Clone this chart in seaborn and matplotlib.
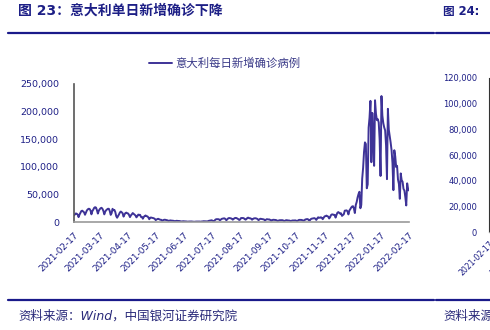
import pandas as pd
import matplotlib
matplotlib.use("Agg")
import matplotlib.pyplot as plt
from matplotlib.ticker import FuncFormatter
import seaborn as sns

# Italy, daily new confirmed cases; one row per week (Wed .. Tue)
weekly_cases = [
    [12074, 13762, 15479, 14931, 13452, 8824, 13314],
    [16424, 19886, 20499, 18916, 17455, 13114, 17083],
    [20884, 22865, 24036, 23641, 20765, 13902, 19749],
    [22409, 25673, 26824, 26062, 21315, 15267, 20396],
    [23059, 24935, 25735, 23832, 20159, 13846, 18765],
    [21267, 22790, 23987, 23839, 19611, 12916, 16017],
    [23904, 21261, 21932, 18025, 10680, 7767, 10680],
    [13708, 17221, 18938, 17567, 15746, 9789, 13447],
    [16168, 16974, 15943, 15370, 12694, 8864, 12074],
    [13844, 16232, 14761, 13176, 11807, 8444, 10404],
    [13385, 12965, 12965, 9148, 9148, 5948, 9116],
    [10867, 11807, 10554, 10176, 8292, 5080, 7852],
    [8085, 7567, 7264, 6659, 5753, 3455, 4452],
    [5506, 5741, 4717, 4147, 3995, 2490, 3224],
    [3937, 4147, 3738, 3351, 2949, 1820, 2483],
    [2897, 2557, 2436, 2275, 1896, 1273, 1896],
    [2199, 1901, 1901, 1723, 1390, 907, 1255],
    [1400, 1197, 1197, 1000, 880, 495, 835],
    [927, 1055, 952, 794, 720, 389, 679],
    [776, 865, 808, 794, 808, 480, 907],
    [1010, 1394, 1390, 1400, 1203, 888, 1552],
    [2153, 2455, 2898, 3121, 2329, 1391, 2072],
    [4259, 5057, 5143, 5140, 4743, 3117, 4522],
    [5696, 6171, 6513, 6599, 5321, 3190, 4845],
    [6596, 7230, 6837, 6619, 5735, 4197, 5636],
    [6968, 7409, 7162, 6188, 5210, 3676, 4456],
    [7162, 7260, 7224, 6860, 5175, 4257, 5559],
    [7548, 7826, 6735, 6761, 5959, 4166, 5498],
    [6503, 6761, 6735, 6157, 5315, 3361, 4720],
    [5923, 5621, 5193, 4955, 4664, 2800, 4021],
    [5117, 4830, 4578, 4578, 3460, 2407, 3377],
    [4042, 3826, 3797, 3578, 2795, 1771, 2694],
    [3212, 3312, 3405, 3312, 2766, 1612, 2466],
    [3235, 3235, 2771, 2748, 2494, 1597, 2278],
    [2771, 2668, 2732, 2983, 2456, 1597, 2535],
    [3702, 3882, 3794, 3725, 3035, 2535, 2980],
    [4598, 4866, 5353, 4866, 3035, 3054, 5193],
    [6032, 6411, 6764, 7014, 5823, 3757, 6424],
    [8516, 7891, 7698, 8568, 7569, 5144, 7698],
    [10172, 10638, 11555, 10544, 9709, 6404, 8544],
    [12448, 13764, 13686, 12877, 12932, 7975, 12764],
    [16806, 17959, 16632, 15021, 15756, 11093, 12712],
    [14122, 20497, 20677, 21042, 19215, 13720, 20677],
    [23195, 26109, 28064, 28632, 24259, 16213, 30798],
    [36293, 44595, 50599, 54762, 24883, 30810, 78313],
    [98020, 126888, 144243, 141262, 61046, 68052, 170844],
    [189109, 219441, 108304, 197552, 155659, 101762, 220532],
    [196224, 184615, 186253, 180426, 149512, 83403, 228179],
    [192320, 179106, 171263, 166000, 138860, 77696, 205000],
    [167206, 155697, 143898, 130000, 106858, 57715, 130000],
    [118994, 99522, 101864, 77029, 69000, 42000, 88000],
    [75861, 73000, 60000, 57000, 45000, 30000, 70000],
    [60000, 57000],
]
start_date = "2021-02-17"
series_name = "意大利每日新增确诊病例"
tick_dates = ["2021-02-17", "2021-03-17", "2021-04-17", "2021-05-17",
              "2021-06-17", "2021-07-17", "2021-08-17", "2021-09-17",
              "2021-10-17", "2021-11-17", "2021-12-17", "2022-01-17",
              "2022-02-17"]
y_ticks = [0, 50000, 100000, 150000, 200000, 250000]
next_y_ticks = [0, 20000, 40000, 60000, 80000, 100000, 120000]

title_left = "图 23：意大利单日新增确诊下降"
title_right = "图 24:"
source_left = "资料来源：Wind，中国银河证券研究院"
source_right = "资料来源：Wind，中国银河证券研究院"

NAVY = "#1d1f86"
LINE = "#3e3397"
RULE = "#1a1a8a"

cases = [v for week in weekly_cases for v in week]
df = pd.DataFrame({
    "date": pd.date_range(start_date, periods=len(cases), freq="D"),
    "cases": cases,
})

sns.set_style("white")
plt.rcParams["font.family"] = ["DejaVu Sans", "Noto Sans CJK SC"]

W, H = 490, 330
fig = plt.figure(figsize=(W / 100, H / 100), dpi=100)
fig.patch.set_facecolor("white")

def fx(px):
    return px / W

def fy(py):
    return 1 - py / H

comma = FuncFormatter(lambda v, p: f"{v:,.0f}")

# ---- main panel ----
ax = fig.add_axes([fx(74), fy(222), fx(409) - fx(74), fy(84) - fy(222)])
sns.lineplot(data=df, x="date", y="cases", ax=ax, color=LINE,
             linewidth=1.4, label=series_name)
ax.set_xlim(df["date"].iloc[0], df["date"].iloc[-1])
ax.set_ylim(0, 250000)
ax.set_yticks(y_ticks)
ax.yaxis.set_major_formatter(comma)
ax.set_xticks(pd.to_datetime(tick_dates))
ax.set_xticklabels(tick_dates, rotation=45, ha="right", rotation_mode="anchor")
ax.set_xlabel("")
ax.set_ylabel("")
for s in ("top", "right"):
    ax.spines[s].set_visible(False)
ax.spines["left"].set_color("#555555")
ax.spines["left"].set_linewidth(1.2)
ax.spines["bottom"].set_color("#9a9a9a")
ax.spines["bottom"].set_linewidth(1.2)
ax.tick_params(axis="y", direction="in", length=3, width=1, color="#555555",
               labelsize=6.8, labelcolor=NAVY, pad=10.5)
ax.tick_params(axis="x", direction="in", length=3, width=1, color="#777777",
               labelsize=6.4, labelcolor=NAVY, pad=6)

leg = ax.legend(loc="center left", bbox_to_anchor=(fx(149), fy(63)),
                bbox_transform=fig.transFigure, frameon=False, fontsize=8.2,
                handlelength=2.0, handletextpad=0.35, borderpad=0,
                borderaxespad=0)
for t in leg.get_texts():
    t.set_color("#3a3a88")

# ---- neighbouring panel, cut by the page edge ----
ax2 = fig.add_axes([fx(489), fy(232), 0.82, fy(78) - fy(232)])
ax2.set_xlim(df["date"].iloc[0], df["date"].iloc[-1])
ax2.set_ylim(0, 120000)
ax2.set_yticks(next_y_ticks)
ax2.yaxis.set_major_formatter(comma)
ax2.set_xticks(pd.to_datetime(tick_dates[:2]))
ax2.set_xticklabels(tick_dates[:2], rotation=45, ha="right", rotation_mode="anchor")
for s in ("top", "right"):
    ax2.spines[s].set_visible(False)
ax2.spines["left"].set_color("#333333")
ax2.spines["bottom"].set_color("#9a9a9a")
ax2.tick_params(axis="y", direction="in", length=3, color="#333333",
                labelsize=6.0, labelcolor=NAVY, pad=8.5)
ax2.tick_params(axis="x", direction="in", length=3, color="#777777",
                labelsize=5.6, labelcolor=NAVY, pad=5)

# ---- page furniture ----
fig.text(fx(18), fy(11), title_left, fontsize=10, fontweight="bold",
         color=NAVY, ha="left", va="center")
fig.text(fx(443), fy(11), title_right, fontsize=8.4, fontweight="bold",
         color=NAVY, ha="left", va="center")
for y in (33, 300):
    fig.add_artist(plt.Line2D([fx(8), fx(434)], [fy(y), fy(y)],
                              color=RULE, linewidth=1.6))
    fig.add_artist(plt.Line2D([fx(436), fx(490)], [fy(y), fy(y)],
                              color=RULE, linewidth=1.6))
fig.text(fx(18), fy(316), source_left, fontsize=9, style="italic",
         color="#2a2a7a", ha="left", va="center")
fig.text(fx(443), fy(316), source_right, fontsize=9, style="italic",
         color="#2a2a7a", ha="left", va="center")

fig.savefig("out.png", dpi=100, facecolor="white")
